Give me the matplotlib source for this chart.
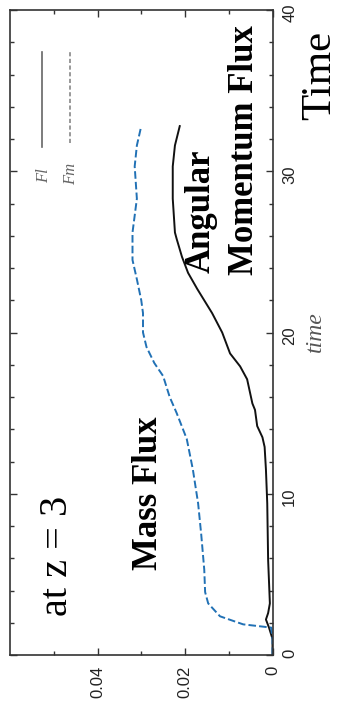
import matplotlib
matplotlib.use("Agg")
import matplotlib.pyplot as plt
from matplotlib.lines import Line2D

# ---- data ----
time_fm = [0, 1.0, 1.7, 1.9, 2.4, 3.2, 3.9, 5.3, 7.5, 9.4, 11.5, 13.4, 15.0, 16.0,
           17.3, 18.1, 19.1, 20.0, 21.2, 22.0, 23.3, 24.5, 25.8, 26.2, 28.3, 30.3,
           31.6, 32.8]
flux_fm = [0, 0, 0.0003, 0.0067, 0.0120, 0.0147, 0.0154, 0.0156, 0.0163, 0.0170,
           0.0182, 0.0196, 0.0219, 0.0235, 0.0250, 0.0270, 0.0288, 0.0296, 0.0296,
           0.0300, 0.0310, 0.0320, 0.0320, 0.0320, 0.0310, 0.0315, 0.0310, 0.0300]

time_fl = [0, 1.0, 1.7, 2.2, 2.6, 3.2, 5.9, 9.4, 11.5, 12.9, 13.5, 14.2, 15.2, 15.6,
           17.1, 17.9, 18.7, 20.0, 21.2, 22.7, 23.7, 24.7, 25.8, 26.2, 28.3, 30.3,
           31.6, 32.8]
flux_fl = [0, 0, 0.0008, 0.0015, 0.0010, 0.0006, 0.0010, 0.0012, 0.0015, 0.0018,
           0.0023, 0.0035, 0.0040, 0.0046, 0.0058, 0.0074, 0.0097, 0.0115, 0.0138,
           0.0172, 0.0193, 0.0207, 0.0219, 0.0223, 0.0228, 0.0228, 0.0223, 0.0212]

flux_ticks = [0, 0.02, 0.04]
flux_tick_labels = ["0", "0.02", "0.04"]
time_ticks = [0, 10, 20, 30, 40]
time_tick_labels = ["0", "10", "20", "30", "40"]

W, H = 339, 712
fig = plt.figure(figsize=(W / 100, H / 100), dpi=100)
fig.patch.set_facecolor("white")

def fx(px):
    return px / W

def fy(py):
    return 1 - py / H

ax = fig.add_axes([fx(10), fy(655), (272.5 - 10) / W, (655 - 10) / H])
ax.plot(flux_fl, time_fl, color="#111111", lw=1.4)
ax.plot(flux_fm, time_fm, color="#2171b5", lw=1.4, dashes=(3.9, 1.6))

ax.set_xlim(0.06, 0)
ax.set_ylim(0, 40)
ax.set_xticks(flux_ticks)
ax.set_xticklabels(flux_tick_labels)
ax.set_xticks([0.01, 0.03, 0.05], minor=True)
ax.set_yticks(time_ticks)
ax.set_yticklabels(time_tick_labels)
ax.set_yticks(range(0, 41, 2), minor=True)

for s in ax.spines.values():
    s.set_linewidth(1.2)
    s.set_color("#333333")

ax.tick_params(axis="both", which="both", direction="in", top=True, bottom=True,
               left=True, right=True, color="#333333")
ax.tick_params(axis="both", which="major", length=5, width=1)
ax.tick_params(axis="both", which="minor", length=3, width=1)
ax.tick_params(axis="x", labelrotation=90, pad=8, labelsize=12)
ax.tick_params(axis="y", labelleft=False, labelright=True, labelrotation=90,
               pad=7, labelsize=12)
for lab in ax.get_xticklabels() + ax.get_yticklabels():
    lab.set_family("Liberation Sans")
    lab.set_color("#222222")

serif = "Liberation Serif"

def rtext(px, py, s, **kw):
    fig.text(fx(px), fy(py), s, rotation=90, rotation_mode="anchor",
             ha="left", va="baseline", family=serif, **kw)

rtext(67, 616, "at z = 3", fontsize=29)
rtext(157, 570, "Mass Flux", fontsize=25, fontweight="bold")
rtext(210, 273, "Angular", fontsize=25, fontweight="bold")
rtext(253, 275, "Momentum Flux", fontsize=25, fontweight="bold")
rtext(330, 120, "Time", fontsize=31)
rtext(321, 352, "time", fontsize=17, style="italic", color="#555555")

# legend drawn manually (rotated)
rtext(48, 183, "Fl", fontsize=12, style="italic", color="#666666")
rtext(75, 185, "Fm", fontsize=12, style="italic", color="#666666")
fig.add_artist(Line2D([fx(42), fx(42)], [fy(147), fy(52)], transform=fig.transFigure,
                      color="#666666", lw=1.2))
fig.add_artist(Line2D([fx(70), fx(70)], [fy(143), fy(52)], transform=fig.transFigure,
                      color="#888888", lw=1.2, dashes=(2.5, 1.5)))

fig.savefig("out.png", dpi=100, facecolor="white")
